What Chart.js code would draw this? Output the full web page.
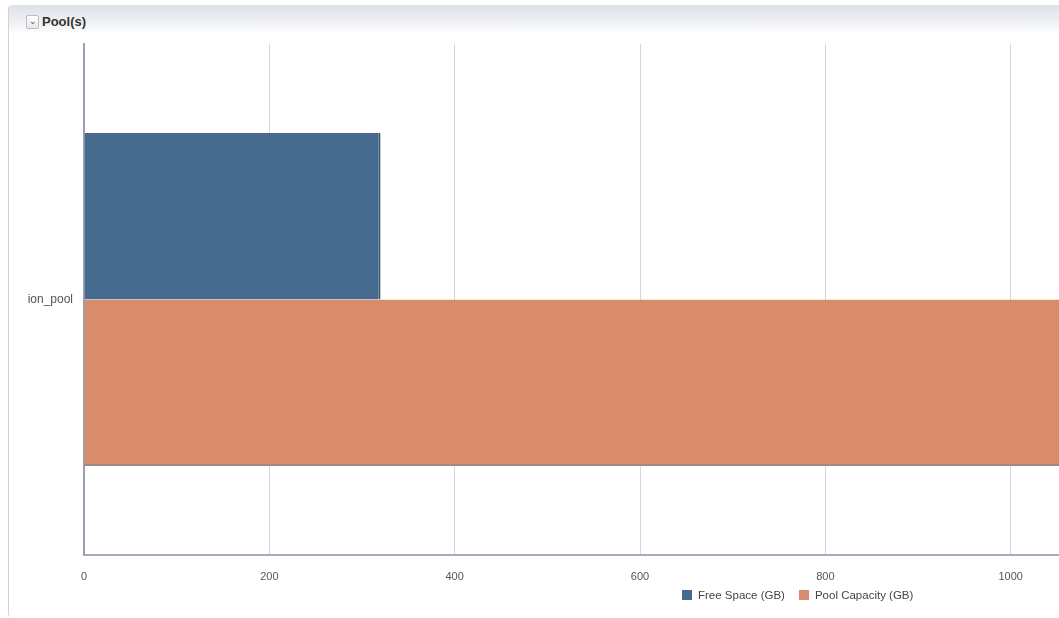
<!DOCTYPE html>
<html lang="en">
<head>
    <meta charset="UTF-8">
    <title>Pool(s)</title>
    <script src="https://cdn.jsdelivr.net/npm/chart.js"></script>
    <style>
        html, body {
            margin: 0;
            padding: 0;
            width: 1059px;
            height: 618px;
            overflow: hidden;
            background: #fff;
            font-family: 'Liberation Sans', Arial, sans-serif;
        }
        .panel {
            position: absolute;
            left: 8px;
            top: 5px;
            width: 1100px;
            height: 611px;
            border-left: 1px solid #cfd2d8;
            border-top: 1px solid #dfe2e6;
            border-radius: 4px 0 0 4px;
        }
        .header {
            height: 28px;
            background: linear-gradient(#dfe3e9, #eef0f3 55%, #fff);
        }
        .header .toggle {
            position: absolute;
            left: 17px;
            top: 9px;
            width: 11px;
            height: 12px;
            border: 1px solid #b9bdc6;
            border-radius: 2px;
            background: linear-gradient(#fff, #e6e8ec);
            font-size: 9px;
            line-height: 11px;
            text-align: center;
            color: #555;
        }
        .header .title {
            position: absolute;
            left: 33px;
            top: 8px;
            font-size: 13px;
            font-weight: bold;
            color: #333;
        }
        .chart-box {
            position: absolute;
            left: 14px;
            top: 34px;
            width: 1300px;
            height: 556px;
        }
        .legend {
            position: absolute;
            left: 682px;
            top: 589px;
            font-size: 11.5px;
            color: #444;
            white-space: nowrap;
        }
        .legend span.sw {
            display: inline-block;
            width: 10px;
            height: 10px;
            vertical-align: -1px;
            margin-right: 6px;
        }
        .legend span.item {
            margin-right: 14px;
        }
    </style>
</head>
<body>
    <div class="panel">
        <div class="header">
            <div class="toggle">&#8964;</div>
            <div class="title">Pool(s)</div>
        </div>
    </div>
    <div class="chart-box"><canvas id="poolChart" width="1300" height="556"></canvas></div>
    <div class="legend" id="legend"></div>

    <script>
        const categories = ['ion_pool'];
        const freeSpace = [320];
        const poolCapacity = [1100];
        const seriesNames = ['Free Space (GB)', 'Pool Capacity (GB)'];
        const seriesColors = ['#476b8e', '#d98c6c'];
        const xTicks = [0, 200, 400, 600, 800, 1000, 1200];

        const legend = document.getElementById('legend');
        seriesNames.forEach((name, i) => {
            legend.insertAdjacentHTML('beforeend',
                `<span class="item"><span class="sw" style="background:${seriesColors[i]}"></span>${name}</span>`);
        });

        new Chart(document.getElementById('poolChart'), {
            type: 'bar',
            data: {
                labels: categories,
                datasets: [
                    {
                        label: seriesNames[0], data: freeSpace, backgroundColor: seriesColors[0],
                        borderColor: '#3b5873', borderWidth: { top: 0, right: 2, bottom: 0, left: 0 }
                    },
                    {
                        label: seriesNames[1], data: poolCapacity, backgroundColor: seriesColors[1],
                        borderColor: '#9c8a82', borderWidth: { top: 0, right: 0, bottom: 2, left: 0 }
                    }
                ]
            },
            options: {
                indexAxis: 'y',
                responsive: false,
                animation: false,
                layout: { padding: { top: 10, right: 118, left: 0, bottom: 0 } },
                datasets: { bar: { barPercentage: 1, categoryPercentage: 0.652, borderSkipped: false } },
                plugins: { legend: { display: false }, tooltip: { enabled: false } },
                scales: {
                    x: {
                        min: xTicks[0],
                        max: xTicks[xTicks.length - 1],
                        afterBuildTicks: s => { s.ticks = xTicks.map(v => ({ value: v })); },
                        afterFit: s => { s.height = 35; },
                        grid: { color: '#d6d6de', drawTicks: false },
                        border: { color: '#a9a9bd', width: 2 },
                        ticks: {
                            padding: 15,
                            color: '#555',
                            font: { family: 'Liberation Sans', size: 11 },
                            callback: v => String(v)
                        }
                    },
                    y: {
                        afterFit: s => { s.width = 70; s.paddingTop = 0; s.paddingBottom = 0; },
                        grid: { display: false, drawTicks: false },
                        border: { color: '#9d9db3', width: 2 },
                        ticks: {
                            padding: 11,
                            color: '#555',
                            font: { family: 'Liberation Sans', size: 12 }
                        }
                    }
                }
            }
        });
    </script>
</body>
</html>
